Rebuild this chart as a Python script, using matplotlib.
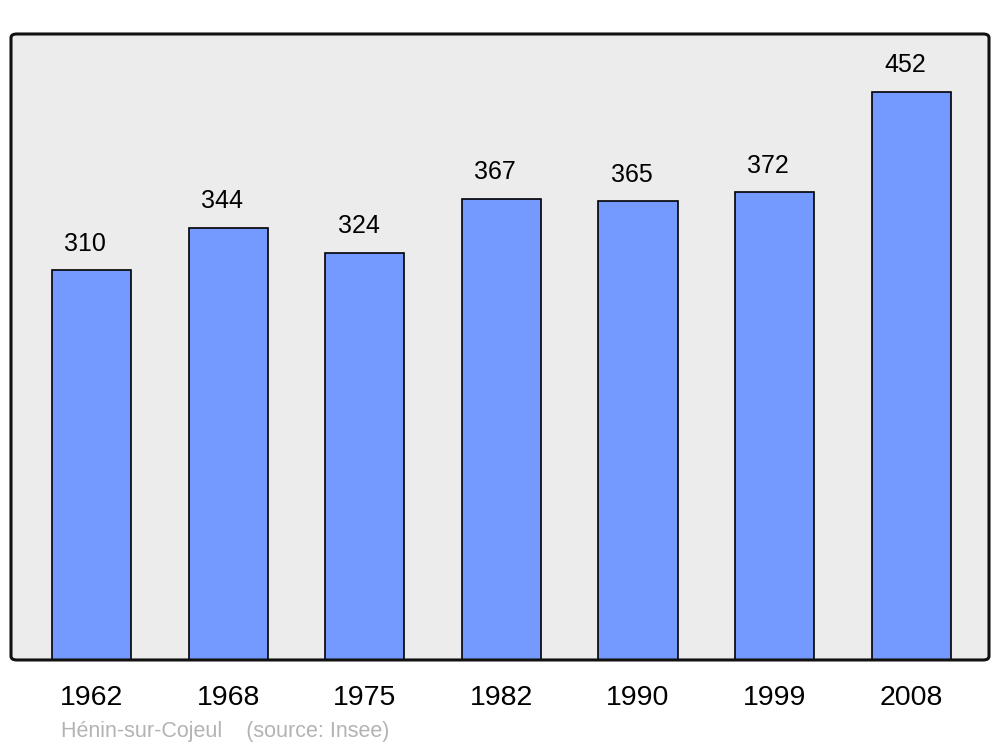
import matplotlib
matplotlib.use('Agg')
import matplotlib.pyplot as plt
from matplotlib.patches import FancyBboxPatch

years = ['1962', '1968', '1975', '1982', '1990', '1999', '2008']
population = [310, 344, 324, 367, 365, 372, 452]

plt.rcParams['font.family'] = ['Liberation Sans', 'DejaVu Sans']

fig = plt.figure(figsize=(10, 7.47), dpi=100)
ax = fig.add_axes([0.011, 0.1165, 0.978, 0.838])
ax.set_facecolor('#ececec')

x = range(len(years))
ax.bar(x, population, width=0.58, color='#7499ff', edgecolor='black', linewidth=1.2, zorder=2)
for xi, v in zip(x, population):
    ax.annotate(str(v), (xi, v), xytext=(-4.5, 19), textcoords='offset points',
                ha='center', va='center', fontsize=18)

ax.set_xlim(-0.59, 6.57)
ax.set_ylim(0, 498)
ax.set_yticks([])
ax.set_xticks(list(x))
ax.set_xticklabels(years, fontsize=20.5)
ax.tick_params(axis='x', length=0, pad=18)

for s in ax.spines.values():
    s.set_visible(False)
# rounded frame
frame = FancyBboxPatch((0, 0), 1, 1, boxstyle='round,pad=0,rounding_size=0.006',
                       transform=ax.transAxes, fill=False, edgecolor='#111111',
                       linewidth=2.2, clip_on=False, zorder=5)
ax.add_patch(frame)

fig.text(0.061, 0.0134, 'Hénin-sur-Cojeul    (source: Insee)', fontsize=15.5,
         color='#b3b3b3', ha='left', va='baseline')

fig.savefig('out.png', dpi=100)
